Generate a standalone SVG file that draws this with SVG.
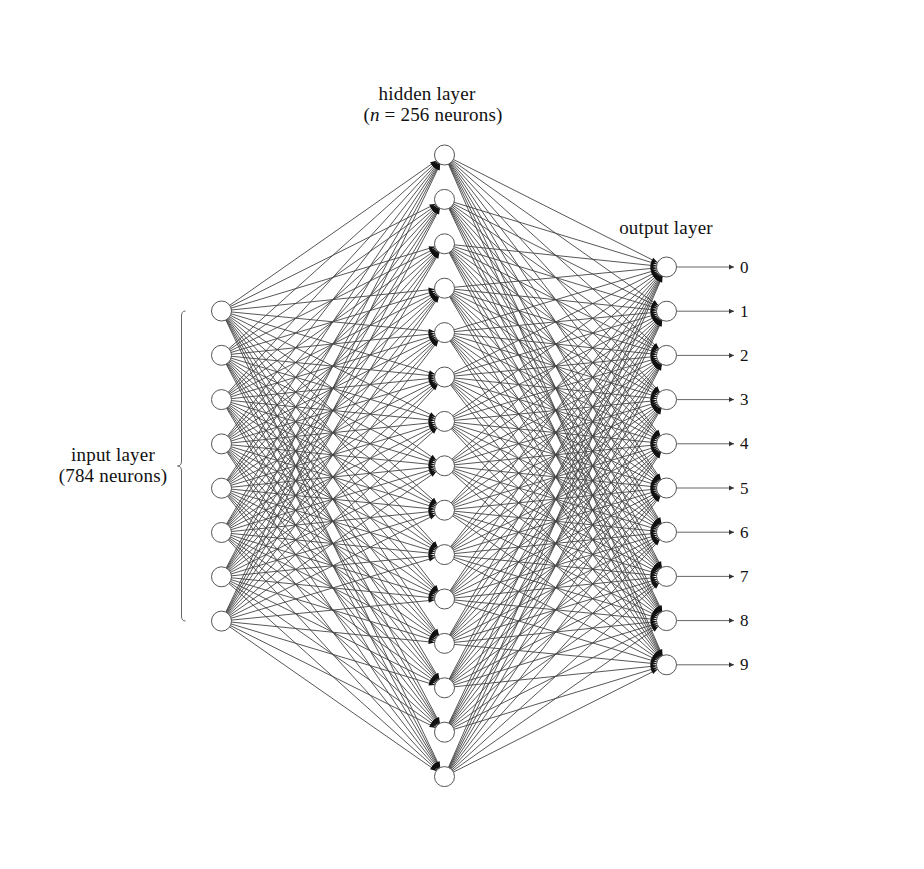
<svg xmlns="http://www.w3.org/2000/svg" width="924" height="869" viewBox="0 0 924 869">
<style>
.e path{fill:none;stroke:#444;stroke-width:0.9;marker-end:url(#ah)}
.n circle{fill:#fff;stroke:#555;stroke-width:1}
.t{font-family:"Liberation Serif","DejaVu Serif",serif;font-size:19px;fill:#111;letter-spacing:0.2px}
.o line{stroke:#555;stroke-width:0.9;marker-end:url(#ah2)}
</style>
<defs>
<marker id="ah" markerUnits="userSpaceOnUse" markerWidth="8" markerHeight="8" refX="16" refY="0" orient="auto" overflow="visible"><path d="M0,-2.3L6,0L0,2.3z" fill="#111"/></marker>
<marker id="ah2" markerUnits="userSpaceOnUse" markerWidth="8" markerHeight="8" refX="5" refY="0" orient="auto" overflow="visible"><path d="M0,-2.5L5,0L0,2.5z" fill="#333"/></marker>
</defs>
<rect width="924" height="869" fill="#fff"/>
<g id="connectors">
<g class="e" transform="translate(221.5,0)">
<path d="M0 311L223 155"/><path d="M0 311L223 199.4"/><path d="M0 311L223 243.8"/><path d="M0 311L223 288.2"/><path d="M0 311L223 332.6"/><path d="M0 311L223 377"/><path d="M0 311L223 421.4"/><path d="M0 311L223 465.8"/><path d="M0 311L223 510.2"/><path d="M0 311L223 554.6"/><path d="M0 311L223 599"/><path d="M0 311L223 643.4"/><path d="M0 311L223 687.8"/><path d="M0 311L223 732.2"/><path d="M0 311L223 776.6"/>
<path d="M0 355.3L223 155"/><path d="M0 355.3L223 199.4"/><path d="M0 355.3L223 243.8"/><path d="M0 355.3L223 288.2"/><path d="M0 355.3L223 332.6"/><path d="M0 355.3L223 377"/><path d="M0 355.3L223 421.4"/><path d="M0 355.3L223 465.8"/><path d="M0 355.3L223 510.2"/><path d="M0 355.3L223 554.6"/><path d="M0 355.3L223 599"/><path d="M0 355.3L223 643.4"/><path d="M0 355.3L223 687.8"/><path d="M0 355.3L223 732.2"/><path d="M0 355.3L223 776.6"/>
<path d="M0 399.6L223 155"/><path d="M0 399.6L223 199.4"/><path d="M0 399.6L223 243.8"/><path d="M0 399.6L223 288.2"/><path d="M0 399.6L223 332.6"/><path d="M0 399.6L223 377"/><path d="M0 399.6L223 421.4"/><path d="M0 399.6L223 465.8"/><path d="M0 399.6L223 510.2"/><path d="M0 399.6L223 554.6"/><path d="M0 399.6L223 599"/><path d="M0 399.6L223 643.4"/><path d="M0 399.6L223 687.8"/><path d="M0 399.6L223 732.2"/><path d="M0 399.6L223 776.6"/>
<path d="M0 443.9L223 155"/><path d="M0 443.9L223 199.4"/><path d="M0 443.9L223 243.8"/><path d="M0 443.9L223 288.2"/><path d="M0 443.9L223 332.6"/><path d="M0 443.9L223 377"/><path d="M0 443.9L223 421.4"/><path d="M0 443.9L223 465.8"/><path d="M0 443.9L223 510.2"/><path d="M0 443.9L223 554.6"/><path d="M0 443.9L223 599"/><path d="M0 443.9L223 643.4"/><path d="M0 443.9L223 687.8"/><path d="M0 443.9L223 732.2"/><path d="M0 443.9L223 776.6"/>
<path d="M0 488.2L223 155"/><path d="M0 488.2L223 199.4"/><path d="M0 488.2L223 243.8"/><path d="M0 488.2L223 288.2"/><path d="M0 488.2L223 332.6"/><path d="M0 488.2L223 377"/><path d="M0 488.2L223 421.4"/><path d="M0 488.2L223 465.8"/><path d="M0 488.2L223 510.2"/><path d="M0 488.2L223 554.6"/><path d="M0 488.2L223 599"/><path d="M0 488.2L223 643.4"/><path d="M0 488.2L223 687.8"/><path d="M0 488.2L223 732.2"/><path d="M0 488.2L223 776.6"/>
<path d="M0 532.5L223 155"/><path d="M0 532.5L223 199.4"/><path d="M0 532.5L223 243.8"/><path d="M0 532.5L223 288.2"/><path d="M0 532.5L223 332.6"/><path d="M0 532.5L223 377"/><path d="M0 532.5L223 421.4"/><path d="M0 532.5L223 465.8"/><path d="M0 532.5L223 510.2"/><path d="M0 532.5L223 554.6"/><path d="M0 532.5L223 599"/><path d="M0 532.5L223 643.4"/><path d="M0 532.5L223 687.8"/><path d="M0 532.5L223 732.2"/><path d="M0 532.5L223 776.6"/>
<path d="M0 576.8L223 155"/><path d="M0 576.8L223 199.4"/><path d="M0 576.8L223 243.8"/><path d="M0 576.8L223 288.2"/><path d="M0 576.8L223 332.6"/><path d="M0 576.8L223 377"/><path d="M0 576.8L223 421.4"/><path d="M0 576.8L223 465.8"/><path d="M0 576.8L223 510.2"/><path d="M0 576.8L223 554.6"/><path d="M0 576.8L223 599"/><path d="M0 576.8L223 643.4"/><path d="M0 576.8L223 687.8"/><path d="M0 576.8L223 732.2"/><path d="M0 576.8L223 776.6"/>
<path d="M0 621.1L223 155"/><path d="M0 621.1L223 199.4"/><path d="M0 621.1L223 243.8"/><path d="M0 621.1L223 288.2"/><path d="M0 621.1L223 332.6"/><path d="M0 621.1L223 377"/><path d="M0 621.1L223 421.4"/><path d="M0 621.1L223 465.8"/><path d="M0 621.1L223 510.2"/><path d="M0 621.1L223 554.6"/><path d="M0 621.1L223 599"/><path d="M0 621.1L223 643.4"/><path d="M0 621.1L223 687.8"/><path d="M0 621.1L223 732.2"/><path d="M0 621.1L223 776.6"/>
</g>
<g class="e" transform="translate(444.5,0)">
<path d="M0 155L222 267"/><path d="M0 155L222 311.2"/><path d="M0 155L222 355.4"/><path d="M0 155L222 399.6"/><path d="M0 155L222 443.8"/><path d="M0 155L222 488"/><path d="M0 155L222 532.2"/><path d="M0 155L222 576.4"/><path d="M0 155L222 620.6"/><path d="M0 155L222 664.8"/>
<path d="M0 199.4L222 267"/><path d="M0 199.4L222 311.2"/><path d="M0 199.4L222 355.4"/><path d="M0 199.4L222 399.6"/><path d="M0 199.4L222 443.8"/><path d="M0 199.4L222 488"/><path d="M0 199.4L222 532.2"/><path d="M0 199.4L222 576.4"/><path d="M0 199.4L222 620.6"/><path d="M0 199.4L222 664.8"/>
<path d="M0 243.8L222 267"/><path d="M0 243.8L222 311.2"/><path d="M0 243.8L222 355.4"/><path d="M0 243.8L222 399.6"/><path d="M0 243.8L222 443.8"/><path d="M0 243.8L222 488"/><path d="M0 243.8L222 532.2"/><path d="M0 243.8L222 576.4"/><path d="M0 243.8L222 620.6"/><path d="M0 243.8L222 664.8"/>
<path d="M0 288.2L222 267"/><path d="M0 288.2L222 311.2"/><path d="M0 288.2L222 355.4"/><path d="M0 288.2L222 399.6"/><path d="M0 288.2L222 443.8"/><path d="M0 288.2L222 488"/><path d="M0 288.2L222 532.2"/><path d="M0 288.2L222 576.4"/><path d="M0 288.2L222 620.6"/><path d="M0 288.2L222 664.8"/>
<path d="M0 332.6L222 267"/><path d="M0 332.6L222 311.2"/><path d="M0 332.6L222 355.4"/><path d="M0 332.6L222 399.6"/><path d="M0 332.6L222 443.8"/><path d="M0 332.6L222 488"/><path d="M0 332.6L222 532.2"/><path d="M0 332.6L222 576.4"/><path d="M0 332.6L222 620.6"/><path d="M0 332.6L222 664.8"/>
<path d="M0 377L222 267"/><path d="M0 377L222 311.2"/><path d="M0 377L222 355.4"/><path d="M0 377L222 399.6"/><path d="M0 377L222 443.8"/><path d="M0 377L222 488"/><path d="M0 377L222 532.2"/><path d="M0 377L222 576.4"/><path d="M0 377L222 620.6"/><path d="M0 377L222 664.8"/>
<path d="M0 421.4L222 267"/><path d="M0 421.4L222 311.2"/><path d="M0 421.4L222 355.4"/><path d="M0 421.4L222 399.6"/><path d="M0 421.4L222 443.8"/><path d="M0 421.4L222 488"/><path d="M0 421.4L222 532.2"/><path d="M0 421.4L222 576.4"/><path d="M0 421.4L222 620.6"/><path d="M0 421.4L222 664.8"/>
<path d="M0 465.8L222 267"/><path d="M0 465.8L222 311.2"/><path d="M0 465.8L222 355.4"/><path d="M0 465.8L222 399.6"/><path d="M0 465.8L222 443.8"/><path d="M0 465.8L222 488"/><path d="M0 465.8L222 532.2"/><path d="M0 465.8L222 576.4"/><path d="M0 465.8L222 620.6"/><path d="M0 465.8L222 664.8"/>
<path d="M0 510.2L222 267"/><path d="M0 510.2L222 311.2"/><path d="M0 510.2L222 355.4"/><path d="M0 510.2L222 399.6"/><path d="M0 510.2L222 443.8"/><path d="M0 510.2L222 488"/><path d="M0 510.2L222 532.2"/><path d="M0 510.2L222 576.4"/><path d="M0 510.2L222 620.6"/><path d="M0 510.2L222 664.8"/>
<path d="M0 554.6L222 267"/><path d="M0 554.6L222 311.2"/><path d="M0 554.6L222 355.4"/><path d="M0 554.6L222 399.6"/><path d="M0 554.6L222 443.8"/><path d="M0 554.6L222 488"/><path d="M0 554.6L222 532.2"/><path d="M0 554.6L222 576.4"/><path d="M0 554.6L222 620.6"/><path d="M0 554.6L222 664.8"/>
<path d="M0 599L222 267"/><path d="M0 599L222 311.2"/><path d="M0 599L222 355.4"/><path d="M0 599L222 399.6"/><path d="M0 599L222 443.8"/><path d="M0 599L222 488"/><path d="M0 599L222 532.2"/><path d="M0 599L222 576.4"/><path d="M0 599L222 620.6"/><path d="M0 599L222 664.8"/>
<path d="M0 643.4L222 267"/><path d="M0 643.4L222 311.2"/><path d="M0 643.4L222 355.4"/><path d="M0 643.4L222 399.6"/><path d="M0 643.4L222 443.8"/><path d="M0 643.4L222 488"/><path d="M0 643.4L222 532.2"/><path d="M0 643.4L222 576.4"/><path d="M0 643.4L222 620.6"/><path d="M0 643.4L222 664.8"/>
<path d="M0 687.8L222 267"/><path d="M0 687.8L222 311.2"/><path d="M0 687.8L222 355.4"/><path d="M0 687.8L222 399.6"/><path d="M0 687.8L222 443.8"/><path d="M0 687.8L222 488"/><path d="M0 687.8L222 532.2"/><path d="M0 687.8L222 576.4"/><path d="M0 687.8L222 620.6"/><path d="M0 687.8L222 664.8"/>
<path d="M0 732.2L222 267"/><path d="M0 732.2L222 311.2"/><path d="M0 732.2L222 355.4"/><path d="M0 732.2L222 399.6"/><path d="M0 732.2L222 443.8"/><path d="M0 732.2L222 488"/><path d="M0 732.2L222 532.2"/><path d="M0 732.2L222 576.4"/><path d="M0 732.2L222 620.6"/><path d="M0 732.2L222 664.8"/>
<path d="M0 776.6L222 267"/><path d="M0 776.6L222 311.2"/><path d="M0 776.6L222 355.4"/><path d="M0 776.6L222 399.6"/><path d="M0 776.6L222 443.8"/><path d="M0 776.6L222 488"/><path d="M0 776.6L222 532.2"/><path d="M0 776.6L222 576.4"/><path d="M0 776.6L222 620.6"/><path d="M0 776.6L222 664.8"/>
</g>
<g class="o">
<line x1="677" y1="267" x2="734" y2="267"/><line x1="677" y1="311.2" x2="734" y2="311.2"/><line x1="677" y1="355.4" x2="734" y2="355.4"/><line x1="677" y1="399.6" x2="734" y2="399.6"/><line x1="677" y1="443.8" x2="734" y2="443.8"/><line x1="677" y1="488" x2="734" y2="488"/><line x1="677" y1="532.2" x2="734" y2="532.2"/><line x1="677" y1="576.4" x2="734" y2="576.4"/><line x1="677" y1="620.6" x2="734" y2="620.6"/><line x1="677" y1="664.8" x2="734" y2="664.8"/>
</g>
<path d="M185.5,311 Q181.5,311 181.5,316 L181.5,461 Q181.5,466 177.5,466 Q181.5,466 181.5,471 L181.5,616 Q181.5,621 185.5,621" fill="none" stroke="#666" stroke-width="1"/>
</g>
<g id="input-layer" class="n">
<circle cx="221.5" cy="311" r="10"/><circle cx="221.5" cy="355.3" r="10"/><circle cx="221.5" cy="399.6" r="10"/><circle cx="221.5" cy="443.9" r="10"/><circle cx="221.5" cy="488.2" r="10"/><circle cx="221.5" cy="532.5" r="10"/><circle cx="221.5" cy="576.8" r="10"/><circle cx="221.5" cy="621.1" r="10"/>
</g>
<g id="hidden-layer" class="n">
<circle cx="444.5" cy="155" r="10"/><circle cx="444.5" cy="199.4" r="10"/><circle cx="444.5" cy="243.8" r="10"/><circle cx="444.5" cy="288.2" r="10"/><circle cx="444.5" cy="332.6" r="10"/><circle cx="444.5" cy="377" r="10"/><circle cx="444.5" cy="421.4" r="10"/><circle cx="444.5" cy="465.8" r="10"/><circle cx="444.5" cy="510.2" r="10"/><circle cx="444.5" cy="554.6" r="10"/><circle cx="444.5" cy="599" r="10"/><circle cx="444.5" cy="643.4" r="10"/><circle cx="444.5" cy="687.8" r="10"/><circle cx="444.5" cy="732.2" r="10"/><circle cx="444.5" cy="776.6" r="10"/>
</g>
<g id="output-layer" class="n">
<circle cx="666.5" cy="267" r="10"/><circle cx="666.5" cy="311.2" r="10"/><circle cx="666.5" cy="355.4" r="10"/><circle cx="666.5" cy="399.6" r="10"/><circle cx="666.5" cy="443.8" r="10"/><circle cx="666.5" cy="488" r="10"/><circle cx="666.5" cy="532.2" r="10"/><circle cx="666.5" cy="576.4" r="10"/><circle cx="666.5" cy="620.6" r="10"/><circle cx="666.5" cy="664.8" r="10"/>
</g>
<g id="labels" class="t">
<text x="427" y="100" text-anchor="middle">hidden layer</text>
<text x="433" y="121" text-anchor="middle">(<tspan font-style="italic">n</tspan> = 256 neurons)</text>
<text x="666" y="234" text-anchor="middle">output layer</text>
<text x="113" y="461" text-anchor="middle">input layer</text>
<text x="113" y="482" text-anchor="middle">(784 neurons)</text>
<g font-size="17">
<text x="740" y="272.5">0</text><text x="740" y="316.7">1</text><text x="740" y="360.9">2</text><text x="740" y="405.1">3</text><text x="740" y="449.3">4</text><text x="740" y="493.5">5</text><text x="740" y="537.7">6</text><text x="740" y="581.9">7</text><text x="740" y="626.1">8</text><text x="740" y="670.3">9</text>
</g>
</g>
</svg>
